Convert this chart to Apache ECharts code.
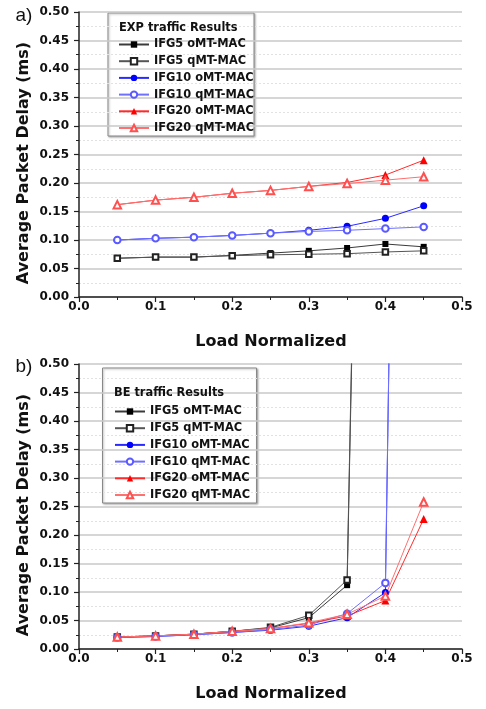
<!DOCTYPE html>
<html>
<head>
<meta charset="utf-8">
<script src="https://cdn.jsdelivr.net/npm/echarts@6/dist/echarts.min.js"></script>
<style>
html,body{margin:0;padding:0;background:#fff;}
#main{width:486px;height:709px;}
</style>
</head>
<body>
<div id="main"></div>
<script>
// ---- Data ----
var loads = [0.05, 0.10, 0.15, 0.20, 0.25, 0.30, 0.35, 0.40, 0.45];
var seriesNames = ['IFG5 oMT-MAC', 'IFG5 qMT-MAC', 'IFG10 oMT-MAC', 'IFG10 qMT-MAC', 'IFG20 oMT-MAC', 'IFG20 qMT-MAC'];
var xTicks = [0.0, 0.1, 0.2, 0.3, 0.4, 0.5];
var yTicks = [0.00, 0.05, 0.10, 0.15, 0.20, 0.25, 0.30, 0.35, 0.40, 0.45, 0.50];

// (a) EXP traffic
var expIFG5o  = [0.068, 0.070, 0.070, 0.073, 0.077, 0.081, 0.086, 0.093, 0.088];
var expIFG5q  = [0.068, 0.070, 0.070, 0.0725, 0.074, 0.075, 0.076, 0.079, 0.081];
var expIFG10o = [0.100, 0.103, 0.105, 0.108, 0.112, 0.117, 0.124, 0.138, 0.160];
var expIFG10q = [0.100, 0.103, 0.105, 0.108, 0.112, 0.115, 0.117, 0.120, 0.123];
var expIFG20o = [0.162, 0.170, 0.175, 0.182, 0.187, 0.194, 0.201, 0.214, 0.240];
var expIFG20q = [0.162, 0.170, 0.175, 0.182, 0.187, 0.194, 0.199, 0.205, 0.211];

// (b) BE traffic (last points lie far above the plotted range)
var beIFG5o  = [0.021, 0.023, 0.026, 0.031, 0.037, 0.055, 0.112, 3.4];
var beIFG5q  = [0.021, 0.023, 0.026, 0.031, 0.038, 0.059, 0.121, 3.5];
var beIFG10o = [0.020, 0.022, 0.025, 0.029, 0.033, 0.040, 0.055, 0.099, 4.5];
var beIFG10q = [0.020, 0.022, 0.025, 0.029, 0.034, 0.042, 0.062, 0.116, 4.4];
var beIFG20o = [0.021, 0.023, 0.026, 0.031, 0.036, 0.045, 0.058, 0.085, 0.228];
var beIFG20q = [0.021, 0.023, 0.026, 0.031, 0.036, 0.046, 0.061, 0.093, 0.258];

// ---- Styles ----
var FONT = 'DejaVu Sans';
var styles = [
  {symbol: 'rect',          color: '#000000', line: '#3a3a3a', size: 6},
  {symbol: 'emptyRect',     color: '#222222', line: '#555555', size: 5.5},
  {symbol: 'circle',        color: '#0000ff', line: '#2a2aff', size: 7},
  {symbol: 'emptyCircle',   color: '#5a5aff', line: '#7070ff', size: 6.5},
  {symbol: 'triangle',      color: '#ff0000', line: '#ff2a2a', size: 8},
  {symbol: 'emptyTriangle', color: '#ff5050', line: '#ff7070', size: 7.5}
];

function pairs(vals) { return vals.map(function (v, i) { return [loads[i], v]; }); }

function makeSeries(arrs, idx) {
  return arrs.map(function (arr, i) {
    var s = styles[i];
    return {
      name: seriesNames[i], type: 'line',
      xAxisIndex: idx, yAxisIndex: idx,
      data: pairs(arr),
      symbol: s.symbol, symbolSize: s.size,
      clip: true, showAllSymbol: true,
      itemStyle: {color: s.color, borderWidth: 1},
      lineStyle: {color: s.line, width: 1},
      emphasis: {disabled: true},
      animation: false
    };
  });
}

function xAxis(idx) {
  return {
    type: 'value', gridIndex: idx, min: 0, max: 0.5, interval: 0.1,
    axisLine: {show: true, onZero: false, lineStyle: {color: '#222', width: 1.5}},
    axisTick: {show: true, inside: false, length: 5, lineStyle: {color: '#222', width: 1.2}},
    minorTick: {show: true, splitNumber: 2, length: 3, lineStyle: {color: '#222', width: 1}},
    splitLine: {show: false},
    axisLabel: {margin: 4, color: '#111', fontFamily: FONT, fontWeight: 'bold', fontSize: 12,
      formatter: function (v) { return v.toFixed(1); }}
  };
}
function yAxis(idx) {
  return {
    type: 'value', gridIndex: idx, min: 0, max: 0.5, interval: 0.05,
    axisLine: {show: true, onZero: false, lineStyle: {color: '#222', width: 1.5}},
    axisTick: {show: true, inside: false, length: 5, lineStyle: {color: '#222', width: 1.2}},
    minorTick: {show: true, splitNumber: 2, length: 3, lineStyle: {color: '#222', width: 1}},
    splitLine: {show: true, lineStyle: {color: '#c9c9c9', width: 1.5}},
    minorSplitLine: {show: true, lineStyle: {color: '#e2e2e2', width: 1, type: [2, 2]}},
    axisLabel: {margin: 10, color: '#111', fontFamily: FONT, fontWeight: 'bold', fontSize: 12,
      formatter: function (v) { return v.toFixed(2); }}
  };
}

function legend(left, top) {
  return {
    orient: 'vertical', left: left, top: top, padding: 0,
    itemWidth: 30, itemHeight: 8, itemGap: 2.7,
    selectedMode: false,
    itemStyle: {borderWidth: 1},
    data: seriesNames,
    textStyle: {fontFamily: FONT, fontWeight: 'bold', fontSize: 11.4, color: '#111', lineHeight: 14}
  };
}

function txt(x, y, text, size, weight, rot, family) {
  return {
    type: 'text', x: x, y: y, rotation: rot || 0, silent: true,
    style: {text: text, fill: '#111', font: (weight || 'bold') + ' ' + size + 'px "' + (family || FONT) + '"',
      textAlign: 'center', textVerticalAlign: 'middle'}
  };
}

var chart = echarts.init(document.getElementById('main'), null, {renderer: 'canvas'});
chart.setOption({
  animation: false,
  backgroundColor: '#fff',
  grid: [
    {left: 79, top: 12, width: 383, height: 285},
    {left: 79, top: 364, width: 383, height: 285}
  ],
  xAxis: [xAxis(0), xAxis(1)],
  yAxis: [yAxis(0), yAxis(1)],
  legend: [legend(118, 37.5), legend(114, 404.5)],
  series: makeSeries([expIFG5o, expIFG5q, expIFG10o, expIFG10q, expIFG20o, expIFG20q], 0)
    .concat(makeSeries([beIFG5o, beIFG5q, beIFG10o, beIFG10q, beIFG20o, beIFG20q], 1)),
  graphic: [
    {type: 'rect', z: 0, silent: true, shape: {x: 108, y: 13, width: 146, height: 123},
      style: {fill: '#fff', stroke: '#888', lineWidth: 1, shadowBlur: 2, shadowOffsetX: 1, shadowOffsetY: 1, shadowColor: 'rgba(0,0,0,0.3)'}},
    {type: 'rect', z: 0, silent: true, shape: {x: 102.5, y: 368, width: 154, height: 135},
      style: {fill: '#fff', stroke: '#888', lineWidth: 1, shadowBlur: 2, shadowOffsetX: 1, shadowOffsetY: 1, shadowColor: 'rgba(0,0,0,0.3)'}},
    {type: 'text', x: 119, y: 28, silent: true, z: 10,
      style: {text: 'EXP traffic Results', fill: '#111', font: 'bold 11.4px "DejaVu Sans"', textAlign: 'left', textVerticalAlign: 'middle'}},
    {type: 'text', x: 114, y: 393.3, silent: true, z: 10,
      style: {text: 'BE traffic Results', fill: '#111', font: 'bold 11.4px "DejaVu Sans"', textAlign: 'left', textVerticalAlign: 'middle'}},
    txt(23.5, 163, 'Average Packet Delay (ms)', 16, 'bold', Math.PI / 2),
    txt(23.5, 515, 'Average Packet Delay (ms)', 16, 'bold', Math.PI / 2),
    txt(271, 341.7, 'Load Normalized', 16, 'bold'),
    txt(271, 694, 'Load Normalized', 16, 'bold'),
    txt(24, 16, 'a)', 19, 'normal', 0, 'Liberation Sans'),
    txt(24, 367, 'b)', 19, 'normal', 0, 'Liberation Sans')
  ]
});
</script>
</body>
</html>
